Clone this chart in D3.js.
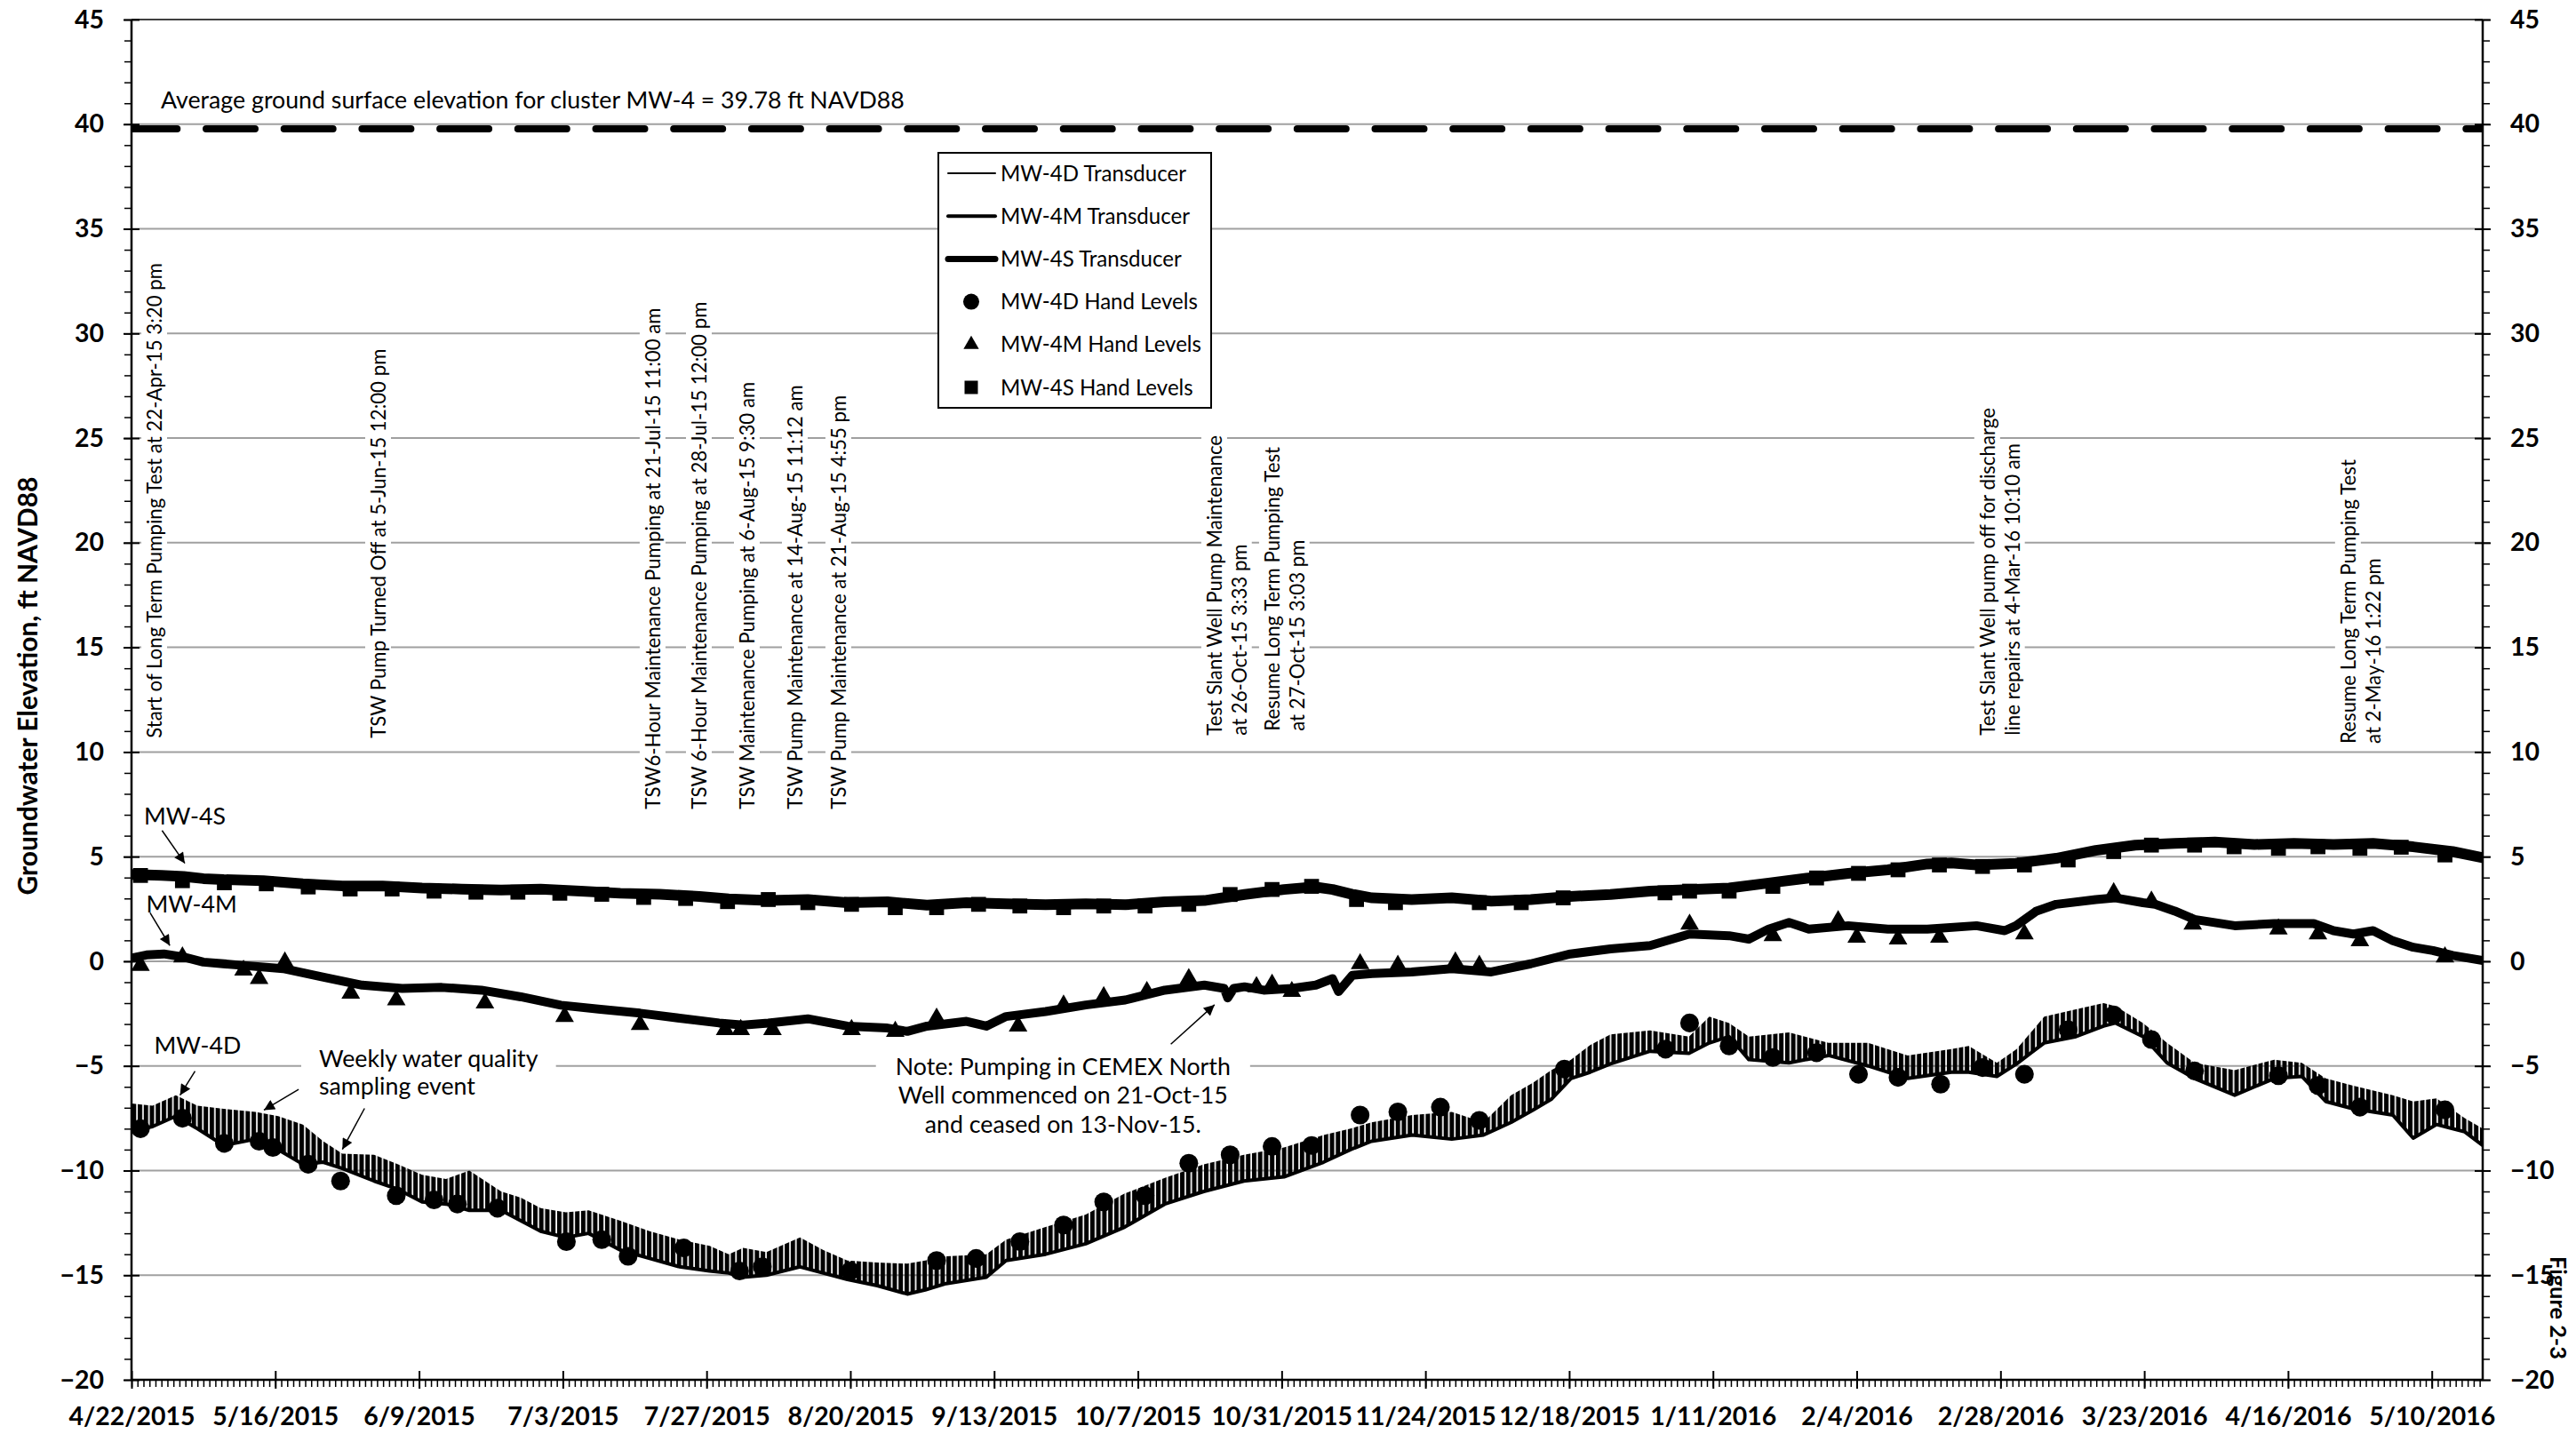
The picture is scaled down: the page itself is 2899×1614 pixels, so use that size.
<!DOCTYPE html>
<html><head><meta charset="utf-8">
<script src="https://cdnjs.cloudflare.com/ajax/libs/d3/7.8.5/d3.min.js"></script>
<style>body{margin:0;background:#fff}svg{display:block}</style>
</head><body>
<svg id="chart" width="2899" height="1614"></svg>
<script>
// ---------------- DATA (days since 4/22/2015 00:00, values in ft NAVD88) ----------------
const xTickLabels = ["4/22/2015","5/16/2015","6/9/2015","7/3/2015","7/27/2015","8/20/2015","9/13/2015","10/7/2015","10/31/2015","11/24/2015","12/18/2015","1/11/2016","2/4/2016","2/28/2016","3/23/2016","4/16/2016","5/10/2016"];
const yTickValues = [-20,-15,-10,-5,0,5,10,15,20,25,30,35,40,45];
const groundSurface = 39.78;
const legendLabels = ["MW-4D Transducer","MW-4M Transducer","MW-4S Transducer","MW-4D Hand Levels","MW-4M Hand Levels","MW-4S Hand Levels"];

// MW-4S transducer [day, level]
const mw4sTransducer = [[0,4.15],[5,4.1],[8.7,4.05],[12,3.95],[15.4,3.9],[22,3.85],[28.6,3.7],[35.2,3.6],[41.9,3.6],[48.5,3.5],[55.1,3.45],[61.7,3.4],[68.3,3.45],[75,3.35],[81.6,3.25],[88.2,3.2],[94.8,3.1],[99.7,2.98],[106.3,2.9],[112.9,2.95],[119.5,2.8],[126.2,2.84],[132.8,2.68],[139.4,2.8],[146,2.75],[152.6,2.7],[159.3,2.75],[165.9,2.7],[172.5,2.84],[179.1,2.9],[185.8,3.19],[192.4,3.43],[197.5,3.55],[200.5,3.43],[203.8,3.2],[207.1,3.03],[213.7,2.95],[220.4,3.03],[227,2.87],[233.6,2.95],[240.2,3.1],[246.9,3.19],[253.5,3.35],[260.1,3.43],[266.7,3.5],[273.3,3.74],[280,3.98],[286.6,4.2],[293.2,4.37],[299.8,4.65],[303.8,4.7],[308,4.6],[314.6,4.68],[321.3,4.92],[327.9,5.3],[334.5,5.55],[341.1,5.63],[347.8,5.7],[354.4,5.58],[361,5.63],[367.6,5.58],[374.2,5.63],[380.9,5.47],[387.5,5.24],[392.5,4.95]];

// MW-4M transducer [day, level]
const mw4mTransducer = [[0,0.15],[2.5,0.3],[5.4,0.35],[8.7,0.2],[12,-0.04],[18.7,-0.2],[25.3,-0.35],[31.9,-0.75],[38.5,-1.14],[45.2,-1.3],[51.8,-1.25],[58.4,-1.38],[65,-1.7],[71.7,-2.1],[78.3,-2.3],[84.9,-2.48],[91.5,-2.72],[98.1,-2.95],[102.1,-3.05],[106.3,-2.95],[112.9,-2.75],[119.5,-3.1],[126.2,-3.19],[129.5,-3.35],[132.8,-3.1],[139.4,-2.87],[142.7,-3.1],[146,-2.64],[152.6,-2.4],[159.3,-2.09],[165.9,-1.85],[172.5,-1.38],[179.1,-1.14],[182.4,-1.3],[183,-1.75],[184,-1.3],[185.8,-1.22],[189,-1.38],[193.7,-1.3],[197.7,-1.14],[200.5,-0.83],[201.5,-1.45],[203.8,-0.67],[207.1,-0.59],[213.7,-0.51],[220.4,-0.35],[227,-0.51],[233.6,-0.12],[240.2,0.35],[246.9,0.59],[253.5,0.75],[260.1,1.3],[266.7,1.22],[270,1.06],[273.3,1.54],[276.7,1.85],[280,1.54],[286.6,1.7],[293.2,1.54],[299.8,1.54],[308,1.7],[312.7,1.46],[314.6,1.7],[318,2.4],[321.3,2.72],[327.9,2.95],[331.2,3.03],[335.8,2.8],[337.8,2.72],[341.1,2.4],[344.4,2.0],[351.1,1.7],[357.7,1.8],[364.3,1.8],[367.6,1.46],[370.9,1.3],[374.2,1.46],[377.5,0.98],[380.9,0.67],[384.2,0.51],[387.5,0.28],[392.5,0.04]];

// MW-4D transducer daily range [day, daily high, daily low]
const mw4dTransducer = [[0,-6.8,-8.1],[3.5,-6.9,-7.9],[7.4,-6.4,-7.4],[11,-6.9,-8.0],[15.4,-7.05,-8.8],[20.7,-7.2,-8.5],[24.5,-7.4,-9.0],[28.6,-7.8,-9.7],[32,-8.6,-9.6],[35.2,-9.2,-9.9],[40.5,-9.25,-10.5],[44.5,-9.7,-10.9],[48.5,-10.2,-11.5],[52.5,-10.4,-11.6],[56.4,-10.0,-11.9],[61.7,-11.0,-11.9],[65,-11.3,-12.4],[68.3,-11.8,-12.9],[72.5,-12.0,-13.2],[76.3,-11.9,-13.0],[81.6,-12.4,-13.8],[86.5,-12.9,-14.2],[91.5,-13.3,-14.6],[96.5,-13.6,-14.8],[99.7,-14.0,-14.9],[102.1,-13.7,-15.1],[106,-13.9,-15.0],[111.6,-13.2,-14.6],[115.5,-13.8,-14.9],[119.5,-14.3,-15.2],[124.5,-14.4,-15.5],[129.5,-14.45,-15.9],[132.5,-14.3,-15.7],[136,-14.1,-15.4],[142.7,-14.0,-15.1],[146,-13.3,-14.3],[152.6,-12.7,-14.0],[159.3,-12.1,-13.5],[165.8,-11.1,-12.7],[172.5,-10.35,-11.6],[179,-9.7,-11.0],[185.7,-9.25,-10.5],[192.4,-8.9,-10.3],[199,-8.3,-9.6],[203.5,-8.0,-9.0],[207,-7.7,-8.6],[213.8,-7.35,-8.3],[220.4,-7.2,-8.5],[225.7,-7.7,-8.3],[230.3,-6.4,-7.7],[234,-5.8,-7.1],[237,-5.2,-6.6],[240.3,-4.7,-5.6],[243.5,-4.0,-5.3],[246.9,-3.5,-4.9],[253.5,-3.3,-4.3],[260,-3.6,-4.4],[263.4,-2.65,-3.9],[266.7,-2.95,-3.6],[270,-3.6,-4.7],[276.7,-3.4,-4.85],[283.3,-3.9,-4.5],[289.9,-3.9,-5.0],[296.5,-4.5,-5.6],[303.8,-4.2,-5.3],[306.7,-4.05,-5.3],[311.4,-4.85,-5.5],[314.7,-4.2,-4.9],[319.3,-2.65,-3.9],[324.6,-2.3,-3.6],[329.2,-2.0,-3.1],[331.2,-2.15,-2.95],[335.8,-2.95,-3.6],[339.8,-3.9,-4.85],[344.4,-4.85,-5.6],[351.1,-5.2,-6.4],[357.7,-4.7,-5.6],[362.3,-4.85,-5.5],[366.3,-5.6,-6.7],[370.9,-5.95,-7.05],[377.5,-6.4,-7.35],[380.9,-6.7,-8.45],[384.8,-6.55,-7.8],[389.5,-7.5,-8.15],[392.5,-8.0,-8.8]];

// Hand levels [day, level]
const mw4dHand = [[1.5,-8.0],[8.5,-7.5],[15.5,-8.7],[21.3,-8.6],[23.6,-8.9],[29.5,-9.7],[34.9,-10.5],[44.2,-11.2],[50.5,-11.4],[54.4,-11.6],[61.1,-11.8],[72.6,-13.4],[78.5,-13.3],[82.9,-14.1],[92.2,-13.7],[101.5,-14.8],[105.3,-14.6],[120,-14.8],[134.4,-14.3],[141,-14.2],[148.3,-13.4],[155.6,-12.6],[162.3,-11.5],[169.2,-11.2],[176.5,-9.65],[183.4,-9.25],[190.4,-8.85],[197,-8.8],[205.1,-7.35],[211.4,-7.2],[218.5,-6.97],[225,-7.6],[239.2,-5.15],[256.1,-4.2],[260.1,-2.95],[266.7,-4.05],[274,-4.6],[281.3,-4.37],[288.3,-5.4],[294.9,-5.55],[302,-5.87],[309,-5.08],[316,-5.4],[323.3,-3.27],[330.9,-2.56],[337.2,-3.74],[344.4,-5.24],[358.4,-5.47],[365,-5.94],[372,-6.97],[386.2,-7.1]];
const mw4mHand = [[1.5,-0.2],[8.5,0.2],[18.7,-0.43],[21.3,-0.83],[25.6,-0.04],[36.6,-1.53],[44.2,-1.85],[59,-2.0],[72.3,-2.64],[84.9,-3.03],[99.1,-3.27],[101.7,-3.27],[107,-3.27],[120.2,-3.27],[127.5,-3.35],[134.4,-2.72],[148,-3.1],[155.6,-2.1],[162.3,-1.7],[169.5,-1.45],[176.5,-0.83],[187.8,-1.22],[190.4,-1.1],[193.7,-1.45],[205.1,-0.12],[211.4,-0.2],[221,-0.04],[225,-0.2],[260.1,1.77],[274,1.22],[284.9,1.93],[288,1.14],[294.9,1.06],[301.8,1.14],[316,1.3],[330.9,3.27],[337.2,2.87],[344.1,1.77],[358.4,1.54],[365,1.3],[372,0.98],[386.2,0.2]];
const mw4sHand = [[1.5,4.1],[8.5,3.85],[15.5,3.75],[22.5,3.7],[29.5,3.55],[36.5,3.45],[43.5,3.45],[50.5,3.35],[57.5,3.3],[64.5,3.3],[71.5,3.25],[78.5,3.2],[85.5,3.05],[92.5,3.0],[99.5,2.85],[106.3,2.95],[112.9,2.8],[120.2,2.72],[127.5,2.56],[134.4,2.56],[141.4,2.72],[148.3,2.64],[155.6,2.56],[162.3,2.64],[169.2,2.64],[176.5,2.72],[183.4,3.19],[190.4,3.43],[197,3.58],[204.5,2.95],[211,2.8],[225,2.8],[232,2.8],[239,3.03],[256,3.27],[260.1,3.35],[266.7,3.35],[274,3.58],[281.3,3.98],[288.3,4.2],[294.9,4.37],[301.8,4.6],[309,4.53],[316,4.6],[323.3,4.84],[330.9,5.24],[337.2,5.55],[344.4,5.55],[351,5.47],[358.4,5.4],[365,5.47],[372,5.4],[378.9,5.45],[386.2,5.08]];

// Event annotations (event time as day offset)
const eventNotes = [
  {day:0.64,   lines:["Start of Long Term Pumping Test at 22-Apr-15 3:20 pm"]},
  {day:44.5,   lines:["TSW Pump Turned Off at 5-Jun-15 12:00 pm"]},
  {day:90.46,  lines:["TSW6-Hour Maintenance Pumping at 21-Jul-15 11:00 am"]},
  {day:97.5,   lines:["TSW 6-Hour Maintenance Pumping at 28-Jul-15 12:00 pm"]},
  {day:106.4,  lines:["TSW Maintenance Pumping at 6-Aug-15 9:30 am"]},
  {day:114.47, lines:["TSW Pump Maintenance at 14-Aug-15 11:12 am"]},
  {day:121.7,  lines:["TSW Pump Maintenance at 21-Aug-15 4:55 pm"]},
  {day:187.65, lines:["Test Slant Well Pump Maintenance","at 26-Oct-15 3:33 pm"]},
  {day:188.63, lines:["Resume Long Term Pumping Test","at 27-Oct-15 3:03 pm"]},
  {day:317.42, lines:["Test Slant Well pump off for discharge","line repairs at 4-Mar-16 10:10 am"]},
  {day:376.56, lines:["Resume Long Term Pumping Test","at 2-May-16 1:22 pm"]}
];
// layout of those annotations: px offset of first baseline from event x, and level where text starts
const eventLayout = [
  {dx:29.7,v:10.66},{dx:-14,v:10.66},{dx:-14.9,v:7.27},{dx:-10.3,v:7.27},{dx:-16.3,v:7.27},{dx:-16.7,v:7.27},{dx:-16.5,v:7.27},
  {dx:-38.1,v:10.79},{dx:20.3,v:11.0},{dx:-43,v:10.79},{dx:-35.7,v:10.4}
];

// ---------------- CHART ----------------
const svg = d3.select("#chart");
const start = Date.UTC(2015,3,22);
const dt = d => new Date(start + d*864e5);
const x = d3.scaleUtc().domain([dt(0), dt(392.5)]).range([148, 2794]);
const y = d3.scaleLinear().domain([-20,45]).range([1553, 22]);
const X0 = x.range()[0], X1 = x.range()[1], Y0 = y(-20), Y1 = y(45);
const FONT = "Lato, 'Open Sans', sans-serif";

function fitSize(str, weight, target){
  const t = svg.append("text").attr("font-family",FONT).attr("font-weight",weight).attr("font-size",100).text(str);
  const w = t.node().getComputedTextLength(); t.remove();
  return 100*target/w;
}
const tickFs  = fitSize("4/22/2015","bold",142);
const titleFs = fitSize("Groundwater Elevation, ft NAVD88","bold",471);
const figFs   = fitSize("Figure 2-3","bold",116);
const bodyFs  = fitSize("Average ground surface elevation for cluster MW-4 = 39.78 ft NAVD88","normal",837);
const legFs   = fitSize("MW-4D Transducer","normal",209);
const annFs   = fitSize("Test Slant Well Pump Maintenance","normal",338);

const defs = svg.append("defs");
defs.append("clipPath").attr("id","plotclip").append("rect")
  .attr("x",X0).attr("y",Y1).attr("width",X1-X0).attr("height",Y0-Y1);
const dayPx = x(dt(1)) - x(dt(0));
defs.append("pattern").attr("id","spikes").attr("patternUnits","userSpaceOnUse")
  .attr("width",dayPx).attr("height",1614)
  .append("rect").attr("x",0).attr("y",0).attr("width",5).attr("height",1614).attr("fill","#000");
defs.append("marker").attr("id","arrow").attr("viewBox","0 0 10 10").attr("refX",10).attr("refY",5)
  .attr("markerUnits","userSpaceOnUse").attr("markerWidth",14).attr("markerHeight",12).attr("orient","auto")
  .append("path").attr("d","M0,0 L10,5 L0,10 z").attr("fill","#000");

// gridlines
svg.append("g").selectAll("line").data(yTickValues.filter(v=>v>-20 && v<45)).join("line")
  .attr("x1",X0).attr("x2",X1).attr("y1",d=>y(d)).attr("y2",d=>y(d))
  .attr("stroke","#a0a0a0").attr("stroke-width",2);
svg.append("line").attr("x1",X0).attr("x2",X1).attr("y1",Y1).attr("y2",Y1).attr("stroke","#404040").attr("stroke-width",2);

const boxLayer = svg.append("g");
const dataLayer = svg.append("g").attr("clip-path","url(#plotclip)");
const textLayer = svg.append("g");

// ground surface dashed line
dataLayer.append("line").attr("x1",X0).attr("x2",X1).attr("y1",y(groundSurface)).attr("y2",y(groundSurface))
  .attr("stroke","#000").attr("stroke-width",8).attr("stroke-linecap","round")
  .attr("stroke-dasharray","55 32.7").attr("stroke-dashoffset",3.7);

// MW-4D transducer: daily spikes between daily high and low
dataLayer.append("path").datum(mw4dTransducer)
  .attr("d", d3.area().x(d=>x(dt(d[0]))).y0(d=>y(d[2])).y1(d=>y(d[1])))
  .attr("fill","url(#spikes)");
dataLayer.append("path").datum(mw4dTransducer)
  .attr("d", d3.line().x(d=>x(dt(d[0]))).y(d=>y(d[2])))
  .attr("fill","none").attr("stroke","#000").attr("stroke-width",4).attr("stroke-linejoin","round");
// MW-4M
dataLayer.append("path").datum(mw4mTransducer)
  .attr("d", d3.line().x(d=>x(dt(d[0]))).y(d=>y(d[1])))
  .attr("fill","none").attr("stroke","#000").attr("stroke-width",10).attr("stroke-linejoin","round").attr("stroke-linecap","round");
// MW-4S
dataLayer.append("path").datum(mw4sTransducer)
  .attr("d", d3.line().x(d=>x(dt(d[0]))).y(d=>y(d[1])))
  .attr("fill","none").attr("stroke","#000").attr("stroke-width",12).attr("stroke-linejoin","round").attr("stroke-linecap","round");

// hand level markers
const circleSym = d3.symbol(d3.symbolCircle, 255)();
const triSym = d3.symbol(d3.symbolTriangle, 130)();
const sqSym = d3.symbol(d3.symbolSquare, 225)();
const circleBig = d3.symbol(d3.symbolCircle, 350)();
const triBig = d3.symbol(d3.symbolTriangle, 190)();
const sqBig = d3.symbol(d3.symbolSquare, 280)();
dataLayer.append("g").selectAll("path").data(mw4dHand).join("path")
  .attr("transform",d=>`translate(${x(dt(d[0]))},${y(d[1])})`).attr("d",circleBig).attr("fill","#000");
dataLayer.append("g").selectAll("path").data(mw4mHand).join("path")
  .attr("transform",d=>`translate(${x(dt(d[0]))},${y(d[1])})`).attr("d",triBig).attr("fill","#000");
dataLayer.append("g").selectAll("path").data(mw4sHand).join("path")
  .attr("transform",d=>`translate(${x(dt(d[0]))},${y(d[1])})`).attr("d",sqBig).attr("fill","#000");

// ---------------- AXES ----------------
const parseTick = s => { const [m,d,yy] = s.split("/").map(Number); return new Date(Date.UTC(yy,m-1,d)); };
const majorX = xTickLabels.map(parseTick);
const minorX = d3.utcDay.range(dt(0), dt(392.6));
const minorY = d3.range(-20, 46, 1);
function styleAxis(g, w){ g.select(".domain").remove(); g.selectAll("line").attr("stroke","#000").attr("stroke-width",w); }

const gxMinor = svg.append("g").attr("transform",`translate(0,${Y0})`)
  .call(d3.axisBottom(x).tickValues(minorX).tickSize(8).tickFormat(""));
styleAxis(gxMinor,1.5);
const gxIn = svg.append("g").attr("transform",`translate(0,${Y0})`)
  .call(d3.axisTop(x).tickValues(majorX).tickSize(10).tickFormat(""));
styleAxis(gxIn,2);
const gx = svg.append("g").attr("transform",`translate(0,${Y0})`)
  .call(d3.axisBottom(x).tickValues(majorX).tickSizeInner(10).tickSizeOuter(0).tickPadding(21).tickFormat(d3.utcFormat("%-m/%-d/%Y")));
styleAxis(gx,2);
gx.selectAll("text").attr("font-family",FONT).attr("font-weight","bold").attr("font-size",tickFs).attr("fill","#000");

[[X0,"left"],[X1,"right"]].forEach(([xp,side])=>{
  const out = side==="left" ? d3.axisLeft : d3.axisRight;
  const inn = side==="left" ? d3.axisRight : d3.axisLeft;
  const gm = svg.append("g").attr("transform",`translate(${xp},0)`).call(out(y).tickValues(minorY).tickSize(8).tickFormat(""));
  styleAxis(gm,1.5);
  const gi = svg.append("g").attr("transform",`translate(${xp},0)`).call(inn(y).tickValues(yTickValues).tickSize(9).tickFormat(""));
  styleAxis(gi,2);
  const ga = svg.append("g").attr("transform",`translate(${xp},0)`).call(out(y).tickValues(yTickValues).tickSizeInner(9).tickSizeOuter(0).tickPadding(22));
  styleAxis(ga,2);
  ga.selectAll("text").attr("font-family",FONT).attr("font-weight","bold").attr("font-size",tickFs).attr("fill","#000");
});
// axis lines
svg.append("line").attr("x1",X0).attr("x2",X1).attr("y1",Y0).attr("y2",Y0).attr("stroke","#000").attr("stroke-width",2.5);
svg.append("line").attr("x1",X0).attr("x2",X0).attr("y1",Y1).attr("y2",Y0).attr("stroke","#000").attr("stroke-width",2.5);
svg.append("line").attr("x1",X1).attr("x2",X1).attr("y1",Y1).attr("y2",Y0).attr("stroke","#000").attr("stroke-width",2.5);

// axis titles
svg.append("text").attr("transform","translate(42,772) rotate(-90)").attr("text-anchor","middle")
  .attr("font-family",FONT).attr("font-weight","bold").attr("font-size",titleFs).text("Groundwater Elevation, ft NAVD88");
svg.append("text").attr("transform","translate(2870,1472) rotate(90)").attr("text-anchor","middle")
  .attr("font-family",FONT).attr("font-weight","bold").attr("font-size",figFs).text("Figure 2-3");

// ---------------- TEXT HELPERS ----------------
function textBlock(transform, lines, fs, anchor, lh, padX, padY, boxMode){
  const g = textLayer.append("g").attr("transform",transform);
  const nodes = lines.map((s,i)=> g.append("text").attr("x",0).attr("y",i*lh).attr("text-anchor",anchor)
      .attr("font-family",FONT).attr("font-size",fs).attr("fill","#000").text(s));
  if (boxMode){
    const bg = boxLayer.append("g").attr("transform",transform);
    const boxes = boxMode==="each" ? nodes.map(n=>n.node().getBBox()) : [g.node().getBBox()];
    boxes.forEach(bb=> bg.append("rect").attr("x",bb.x-padX).attr("y",bb.y-padY)
      .attr("width",bb.width+2*padX).attr("height",bb.height+2*padY).attr("fill","#fff"));
  }
  return g;
}

// event annotations (rotated)
eventNotes.forEach((e,i)=>{
  const L = eventLayout[i];
  const bx = x(dt(e.day)) + L.dx, by = y(L.v);
  textBlock(`translate(${bx},${by}) rotate(-90)`, e.lines, annFs, "start", annFs*1.25, 4, 1, "each");
});

// ground surface label
textBlock(`translate(${x(dt(4.9))},${y(40.76)})`, ["Average ground surface elevation for cluster MW-4 = 39.78 ft NAVD88"], bodyFs, "start", 0, 0,0,null);
// well labels
textBlock(`translate(${x(dt(2.08))},${y(6.54)})`, ["MW-4S"], bodyFs, "start", 0,0,0,null);
textBlock(`translate(${x(dt(2.45))},${y(2.32)})`, ["MW-4M"], bodyFs, "start", 0,0,0,null);
textBlock(`translate(${x(dt(3.78))},${y(-4.43)})`, ["MW-4D"], bodyFs, "start", 0,0,0,null);
textBlock(`translate(${x(dt(31.3))},${y(-5.06)})`, ["Weekly water quality","sampling event"], bodyFs, "start", bodyFs*1.15, 20, 2, "all");
textBlock(`translate(${x(dt(155.5))},${y(-5.42)})`, ["Note: Pumping in CEMEX North","Well commenced on 21-Oct-15","and ceased on 13-Nov-15."], bodyFs, "middle", bodyFs*1.23, 22, 2, "all");

// arrows [fromDay, fromLevel, toDay, toLevel]
const arrows = [[5.1,6.25,8.9,4.68],[3.1,2.32,6.4,0.75],[10.6,-5.25,8.1,-6.4],[27.9,-6.12,22.1,-7.11],[38.9,-7.03,35.2,-8.99],[173.5,-3.96,180.8,-2.08]];
textLayer.append("g").selectAll("line").data(arrows).join("line")
  .attr("x1",d=>x(dt(d[0]))).attr("y1",d=>y(d[1])).attr("x2",d=>x(dt(d[2]))).attr("y2",d=>y(d[3]))
  .attr("stroke","#000").attr("stroke-width",1.5).attr("marker-end","url(#arrow)");

// ---------------- LEGEND ----------------
const lg = svg.append("g");
const LX = 1056, LY = 172, LW = 307, LH = 287, rowH = 48.2;
lg.append("rect").attr("x",LX).attr("y",LY).attr("width",LW).attr("height",LH).attr("fill","#fff").attr("stroke","#000").attr("stroke-width",2);
const lineWidths = [2,4,7];
const legSyms = [circleSym, triSym, sqSym];
legendLabels.forEach((lab,i)=>{
  const cy = LY + 23 + i*rowH;
  if (i<3){
    lg.append("line").attr("x1",LX+11).attr("x2",LX+64).attr("y1",cy).attr("y2",cy)
      .attr("stroke","#000").attr("stroke-width",lineWidths[i]).attr("stroke-linecap","round");
  } else {
    lg.append("path").attr("transform",`translate(${LX+37},${cy})`).attr("d",legSyms[i-3]).attr("fill","#000");
  }
  lg.append("text").attr("x",LX+70).attr("y",cy).attr("dy","0.36em").attr("font-family",FONT)
    .attr("font-size",legFs).attr("fill","#000").text(lab);
});
</script>
</body></html>
